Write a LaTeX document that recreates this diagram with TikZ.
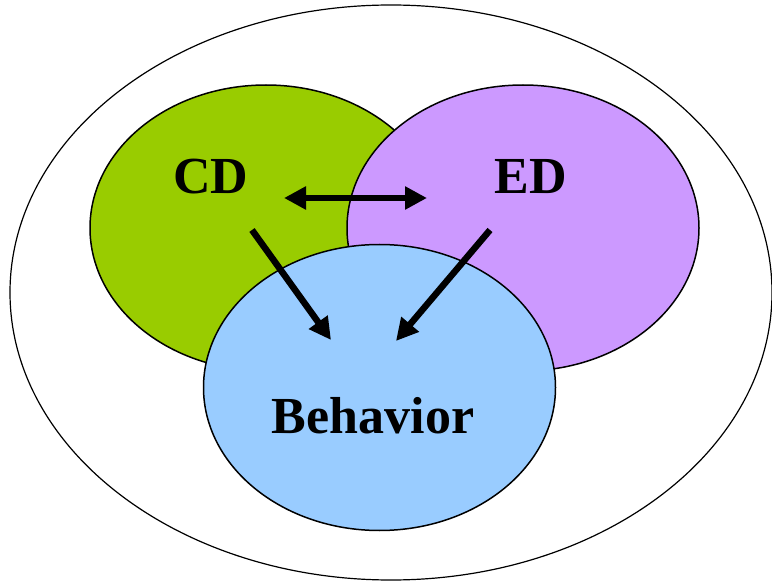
\documentclass[tikz,border=0pt]{standalone}
\usepackage{fontspec}
\setmainfont{Liberation Serif}
\usetikzlibrary{shapes.geometric,arrows.meta}
\definecolor{cdgreen}{HTML}{99CC00}
\definecolor{edpurple}{HTML}{CC99FF}
\definecolor{behblue}{HTML}{99CCFF}
\begin{document}
\begin{tikzpicture}[x=1pt,y=-1pt,
  blob/.style={ellipse,draw=black,line width=1.5pt,inner sep=0pt,outer sep=0pt,minimum width=352pt,minimum height=286pt},
  lbl/.style={font=\bfseries\fontsize{52}{60}\selectfont,inner sep=0pt,anchor=base},
  bigarrow/.style={line width=6.5pt,-{Triangle[length=22pt,width=22pt]}},
  dblarrow/.style={line width=6.5pt,{Triangle[length=22pt,width=22pt]}-{Triangle[length=22pt,width=22pt]}}]
\useasboundingbox (0,0) rectangle (772,583);
\node[ellipse,draw=black,line width=1.2pt,inner sep=0pt,minimum width=762pt,minimum height=575pt] (outer) at (391,292.5) {};
\node[blob,fill=cdgreen] (green) at (266,228) {};
\node[blob,fill=edpurple] (purple) at (523,228) {};
\node[blob,fill=behblue] (blue) at (379.5,387.5) {};
\node[lbl] (cd) at (211,194) {CD};
\node[lbl] (ed) at (531,194) {ED};
\node[lbl] (beh) at (373,433) {Behavior};
\coordinate (dl) at (284,198);
\coordinate (dr) at (427,198);
\coordinate (a1s) at (252,230);
\coordinate (a1e) at (331,340);
\coordinate (a2s) at (490,230);
\coordinate (a2e) at (396,341);
\draw[dblarrow] (dl) -- (dr);
\draw[bigarrow] (a1s) -- (a1e);
\draw[bigarrow] (a2s) -- (a2e);
\end{tikzpicture}
\end{document}
